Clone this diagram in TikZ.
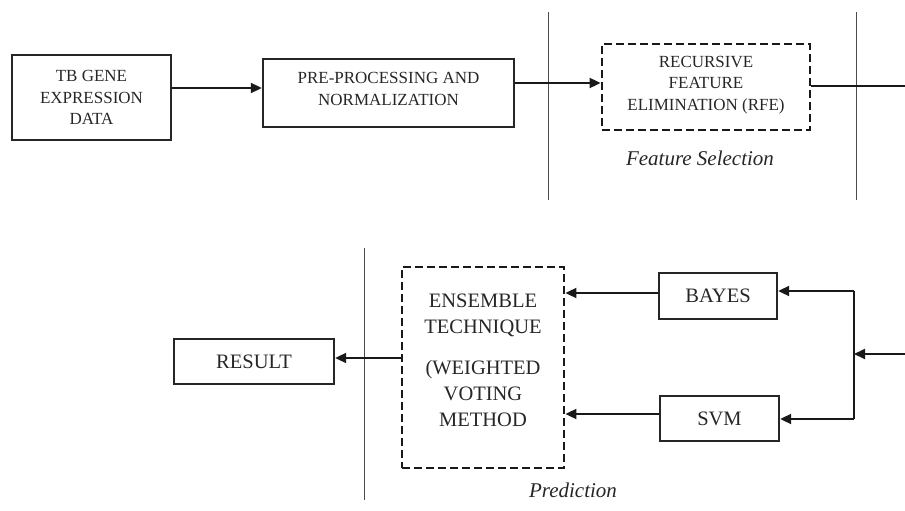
\documentclass[tikz,border=0pt]{standalone}
\usepackage{fontspec}
\setmainfont{Liberation Serif}
\usetikzlibrary{arrows.meta}
\begin{document}
\begin{tikzpicture}[x=1pt,y=-1pt,
  box/.style={draw=black!85,line width=2.3pt,rectangle,align=center,inner sep=0pt,text=black!85},
  topbox/.style={box,font=\fontsize{17}{21.5}\selectfont},
  lowbox/.style={box,font=\fontsize{20.5}{26}\selectfont},
  dashbox/.style={draw=black!90,line width=2.8pt,dash pattern=on 8pt off 4pt,rectangle,inner sep=0pt},
  arr/.style={draw=black!90,line width=1.8pt,-{Triangle[length=11pt,width=10pt]}},
  wire/.style={draw=black!90,line width=1.8pt},
  sep/.style={draw=black!70,line width=1pt},
  caption/.style={font=\fontsize{21}{24}\selectfont\itshape,text=black!85}]
\useasboundingbox (0,0) rectangle (905,511);

% upper stage: data -> pre-processing -> feature selection
\node[topbox,minimum width=159pt,minimum height=85pt] (tb) at (91.5,97.5) {TB GENE\\EXPRESSION\\DATA};
\node[topbox,minimum width=251pt,minimum height=68pt] (pre) at (388.5,93) {};
\node[font=\fontsize{17}{21.5}\selectfont,align=center,text=black!85] (pretext) at (388.5,89) {PRE-PROCESSING AND\\NORMALIZATION};
\node[dashbox,minimum width=208pt,minimum height=86pt] (rfe) at (706,87) {};
\node[font=\fontsize{17}{21.5}\selectfont,align=center,text=black!85] (rfetext) at (706,85) {RECURSIVE\\FEATURE\\ELIMINATION (RFE)};
\node[caption] (fs) at (700,158) {Feature Selection};

\draw[sep] (548,12) -- (548,200);
\draw[sep] (856,12) -- (856,200);

\draw[arr] (tb.east |- 0,88) -- (pre.west |- 0,88);
\draw[arr] (pre.east |- 0,83) -- (rfe.west |- 0,83);
\coordinate (outtop) at (905,86);
\draw[wire] (rfe.east |- outtop) -- (outtop);

% lower stage: classifiers -> ensemble -> result
\node[lowbox,minimum width=118pt,minimum height=46pt] (bayes) at (718,296) {BAYES};
\node[lowbox,minimum width=119pt,minimum height=45pt] (svm) at (719.5,418.5) {SVM};
\node[dashbox,minimum width=162pt,minimum height=201pt] (ens) at (483,367.5) {};
\node[font=\fontsize{20.5}{26}\selectfont,align=center,text=black!85] (enstext) at (483,360) {ENSEMBLE\\TECHNIQUE\\[15pt](WEIGHTED\\VOTING\\METHOD};
\node[lowbox,minimum width=160pt,minimum height=45pt] (result) at (254,361.5) {RESULT};
\node[caption] (pred) at (573,490) {Prediction};

\draw[sep] (364,248) -- (364,500);

\coordinate (inlow) at (905,354);
\coordinate (junc) at (854,354);
\coordinate (jtop) at (854,291);
\coordinate (jbot) at (854,419);
\draw[arr] (inlow) -- (junc);
\draw[wire] (jtop) -- (jbot);
\draw[arr] (jtop) -- (bayes.east |- jtop);
\draw[arr] (jbot) -- (svm.east |- jbot);
\draw[arr] (bayes.west |- 0,293) -- (ens.east |- 0,293);
\draw[arr] (svm.west |- 0,414) -- (ens.east |- 0,414);
\draw[arr] (ens.west |- 0,358) -- (result.east |- 0,358);
\end{tikzpicture}
\end{document}
